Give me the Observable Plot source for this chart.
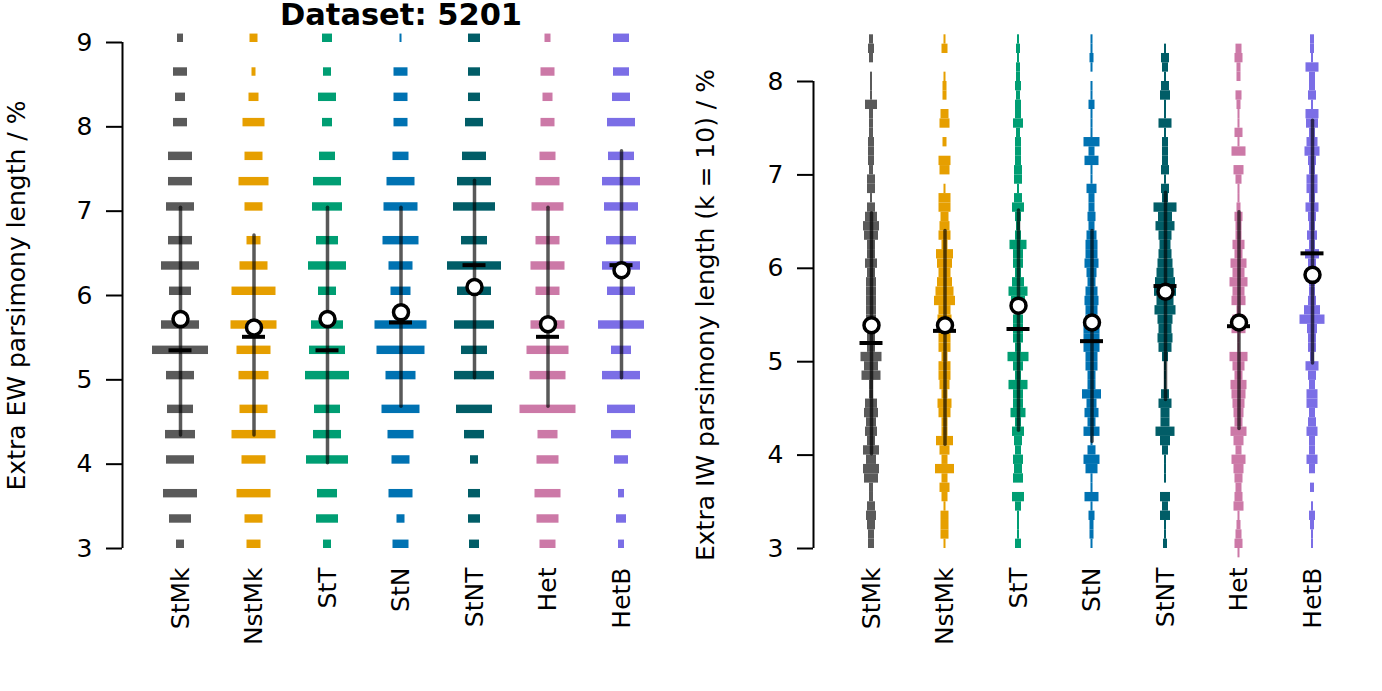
<!DOCTYPE html>
<html>
<head>
<meta charset="utf-8">
<script src="https://cdn.jsdelivr.net/npm/d3@7"></script>
<script src="https://cdn.jsdelivr.net/npm/@observablehq/plot@0.6"></script>
<style>
  html, body { margin: 0; padding: 0; background: #fff; overflow: hidden; }
  #wrap { display: flex; width: 1382px; height: 691px; }
</style>
</head>
<body>
<div id="wrap"></div>
<script>
// ---------------- data ----------------
const title = "Dataset: 5201";
const categories = ["StMk", "NstMk", "StT", "StN", "StNT", "Het", "HetB"];
const colors = ["#5a5a5a", "#e69f00", "#009e73", "#0072b2", "#015d67", "#cc79a7", "#7b6ee6"];

// Left panel (EW): histogram bins (lower edge) and counts per category
const ewBins = [3.0, 3.3, 3.6, 4.0, 4.3, 4.6, 5.0, 5.3, 5.6, 6.0, 6.3, 6.6, 7.0, 7.3, 7.6, 8.0, 8.3, 8.6, 9.0];
const ewStMk  = [4, 11, 17, 14, 15, 13, 14, 28, 19, 11, 19, 12, 14, 12, 12, 7, 5, 7, 3];
const ewNstMk = [7, 9, 17, 12, 22, 14, 15, 17, 23, 22, 14, 7, 9, 15, 9, 11, 5, 2, 4];
const ewStT   = [4, 11, 10, 21, 14, 13, 22, 18, 16, 9, 19, 11, 15, 14, 8, 5, 9, 4, 5];
const ewStN   = [8, 4, 12, 9, 13, 19, 15, 24, 26, 10, 12, 18, 17, 14, 8, 7, 7, 7, 1];
const ewStNT  = [5, 6, 6, 4, 10, 18, 20, 13, 20, 17, 27, 13, 21, 17, 12, 9, 6, 6, 6];
const ewHet   = [8, 11, 13, 11, 10, 28, 18, 21, 17, 12, 17, 12, 16, 12, 8, 7, 5, 7, 3];
const ewHetB  = [3, 5, 3, 7, 10, 14, 19, 10, 23, 14, 19, 15, 17, 19, 13, 14, 9, 8, 8];
// summary: interval low, interval high, median, mean
const ewLow    = [4.34, 4.34, 4.01, 4.68, 5.02, 4.68, 5.02];
const ewHigh   = [7.04, 6.71, 7.04, 7.04, 7.36, 7.04, 7.71];
const ewMedian = [5.35, 5.51, 5.35, 5.68, 6.36, 5.51, 6.36];
const ewMean   = [5.72, 5.62, 5.72, 5.80, 6.10, 5.66, 6.30];
const ewTicks  = [3, 4, 5, 6, 7, 8, 9];

// Right panel (IW, k = 10): bins 2.9, 3.0, ... 8.4 (width 0.1)
const iwBins = d3.range(56).map(j => +(2.9 + j * 0.1).toFixed(1));
const iwStMk  = [0, 3, 3, 4, 5, 4, 2, 2, 7, 8, 5, 8, 4, 6, 5, 7, 6, 2, 2, 9.5, 7, 10.5, 4, 4, 4, 5, 5, 5, 5, 5, 4, 6, 4, 4, 7, 8, 6, 4, 1, 4, 4, 2, 3, 3, 3, 2, 2, 2, 6, 1, 1, 1, 0, 2, 3, 2];
const iwNstMk = [0, 1, 4, 4, 4, 1, 3, 5, 3, 9.5, 3, 5, 8.5, 3, 3, 6, 7, 3, 5, 6, 6, 3, 6, 6, 6, 7, 6, 10.5, 9, 7.5, 6, 7.5, 8.5, 3, 6, 5, 4, 6, 6, 1, 0, 5, 6, 0, 2, 0, 5, 4, 0, 2, 2, 1, 0, 0, 3, 1];
const iwStT   = [0, 3, 1, 1, 1, 3, 6, 0, 5, 4, 5, 3, 4, 6, 3, 7.5, 5, 5, 9.5, 3, 5, 10.5, 3, 5, 5, 5, 3, 7, 9.5, 6, 3, 5, 5, 8.5, 3, 2, 3, 6, 4, 1, 4, 4, 3, 3, 3, 2, 5, 3, 3, 2, 3, 2, 2, 1, 2, 1];
const iwStN   = [0, 1, 2, 2, 3, 1, 7, 1, 1, 6, 8, 4, 1, 8, 4, 7, 5, 9.5, 4, 4, 6, 6, 8, 8, 8, 6, 6, 7, 6, 4, 5, 7, 6, 6, 5, 3, 4, 3, 3, 5, 1, 1, 7, 3, 8, 1, 1, 1, 3, 1, 1, 0, 1, 2, 1, 1];
const iwStNT  = [0, 2, 1, 1, 5, 3, 5, 0, 1, 1, 1, 3, 5, 9.5, 4.5, 4.5, 6.5, 4, 1, 1, 1, 3, 6.5, 7.5, 6.5, 7.5, 10.5, 8.5, 11, 10, 8.5, 7.5, 6.5, 5.5, 6.5, 9.5, 7, 11.5, 3, 4, 1, 4, 3, 3, 3, 1, 6.5, 1, 1, 5, 4, 1, 3, 4, 1, 0];
const iwHet   = [1, 4, 3, 2, 1, 5, 4, 3, 4, 5, 7, 3, 5, 8, 4, 5, 6, 7, 8, 4, 6, 9, 1, 1, 7, 6, 2, 7, 6, 9, 6, 8, 4, 6, 3, 3, 4, 2, 1, 1, 3, 5, 0, 7, 1, 4, 1, 1, 2, 3, 0, 2, 2, 4, 3, 0];
const iwHetB  = [0, 1, 1, 2, 3, 1, 0, 2, 0, 3, 5.5, 3, 3, 5.5, 4, 3, 5.5, 5.5, 3, 4, 6.5, 2, 4, 4, 5, 12.5, 8, 4, 3, 3, 5, 4, 7, 3, 5, 3, 4, 6.5, 3, 5.5, 5.5, 3, 4, 7.5, 5.5, 3, 6, 6.5, 1, 4, 3, 3, 6.5, 1, 2, 2];
const iwLow    = [4.01, 4.11, 4.26, 4.14, 4.59, 4.28, 4.98];
const iwHigh   = [6.59, 6.40, 6.62, 6.40, 6.81, 6.60, 7.58];
const iwMedian = [5.20, 5.33, 5.35, 5.22, 5.81, 5.38, 6.16];
const iwMean   = [5.39, 5.39, 5.60, 5.42, 5.75, 5.42, 5.93];
const iwTicks  = [3, 4, 5, 6, 7, 8];

// ---------------- build ----------------
const FONT = "DejaVu Sans";
const FS = 25;
const STEP_PX = 73.5;           // px between category centres
const HALF_PX_PER_COUNT = 1;    // half bar width (px) per count

function buildBars(bins, series, binWidth) {
  const rows = [];
  series.forEach((counts, i) => {
    counts.forEach((n, j) => {
      if (n > 0) rows.push({i, cat: categories[i], lo: bins[j], hi: bins[j] + binWidth, n});
    });
  });
  return rows;
}
function buildStats(low, high, med, mean) {
  return categories.map((c, i) => ({i, cat: c, low: low[i], high: high[i], median: med[i], mean: mean[i]}));
}

function panel({bars, stats, yDomain, yTicks, yLabel, marginTop, labelOffset, withTitle}) {
  const k = HALF_PX_PER_COUNT / STEP_PX;
  const medHalf = 11.5 / STEP_PX;
  const pad = 58 / STEP_PX;
  const xDomain = [-pad, categories.length - 1 + pad];
  const marks = [
    Plot.rect(bars, {
      x1: d => d.i - d.n * k, x2: d => d.i + d.n * k,
      y1: "lo", y2: "hi",
      fill: d => colors[d.i]
    }),
    Plot.ruleX(stats, {x: "i", y1: "low", y2: "high", stroke: "black", strokeOpacity: 0.65, strokeWidth: 3.5, strokeLinecap: "round"}),
    Plot.ruleY(stats, {y: "median", x1: d => d.i - medHalf, x2: d => d.i + medHalf, stroke: "black", strokeWidth: 4}),
    Plot.dot(stats, {x: "i", y: "mean", r: 7.5, fill: "white", stroke: "black", strokeWidth: 3.5}),
    Plot.ruleX([xDomain[0]], {y1: yDomain[0], y2: yDomain[1], stroke: "black", strokeWidth: 2}),
    Plot.axisY({ticks: yTicks, tickFormat: "d", tickSize: 16, tickPadding: 14, strokeWidth: 2, fontSize: FS,
      label: yLabel, labelAnchor: "center", labelArrow: "none", labelOffset}),
    Plot.axisX({ticks: d3.range(categories.length), tickFormat: i => categories[i],
      tickRotate: -90, tickSize: 0, tickPadding: 19, fontSize: FS, label: null})
  ];
  if (withTitle) {
    marks.push(Plot.text([title], {frameAnchor: "top", dy: -18, lineAnchor: "bottom",
      fontWeight: "bold", fontSize: 30.5, text: d => d}));
  }
  return Plot.plot({
    width: 691, height: 691,
    marginLeft: 122, marginRight: 12, marginTop, marginBottom: 143,
    style: {fontFamily: FONT, fontSize: FS + "px", color: "black", background: "white", overflow: "visible"},
    x: {type: "linear", domain: xDomain, axis: null},
    y: {domain: yDomain, axis: null},
    marks
  });
}

const left = panel({
  bars: buildBars(ewBins, [ewStMk, ewNstMk, ewStT, ewStN, ewStNT, ewHet, ewHetB], 0.1),
  stats: buildStats(ewLow, ewHigh, ewMedian, ewMean),
  yDomain: [3, 9], yTicks: ewTicks,
  yLabel: "Extra EW parsimony length / %",
  marginTop: 42, labelOffset: 115, withTitle: true
});
const right = panel({
  bars: buildBars(iwBins, [iwStMk, iwNstMk, iwStT, iwStN, iwStNT, iwHet, iwHetB], 0.1),
  stats: buildStats(iwLow, iwHigh, iwMedian, iwMean),
  yDomain: [3, 8], yTicks: iwTicks,
  yLabel: "Extra IW parsimony length (k = 10) / %",
  marginTop: 81, labelOffset: 117, withTitle: false
});
const wrap = document.getElementById("wrap");
wrap.appendChild(left);
wrap.appendChild(right);
</script>
</body>
</html>
